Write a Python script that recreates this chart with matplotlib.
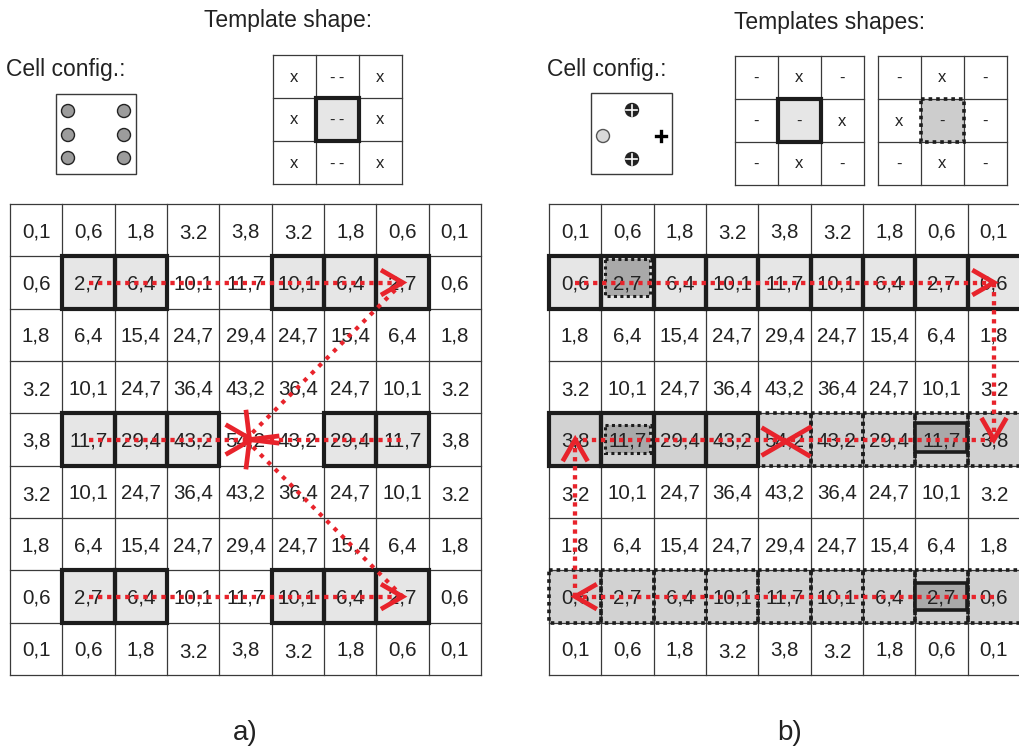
import numpy as np
import matplotlib
matplotlib.use('Agg')
import matplotlib.pyplot as plt
from matplotlib.patches import Rectangle, Circle

plt.rcParams['font.family'] = ['Liberation Sans', 'DejaVu Sans']

# grid values (same map shown in a) and b))
grid_vals = [
    ['0,1', '0,6', '1,8', '3.2', '3,8', '3.2', '1,8', '0,6', '0,1'],
    ['0,6', '2,7', '6,4', '10,1', '11,7', '10,1', '6,4', '2,7', '0,6'],
    ['1,8', '6,4', '15,4', '24,7', '29,4', '24,7', '15,4', '6,4', '1,8'],
    ['3.2', '10,1', '24,7', '36,4', '43,2', '36,4', '24,7', '10,1', '3.2'],
    ['3,8', '11,7', '29,4', '43,2', '54,2', '43,2', '29,4', '11,7', '3,8'],
    ['3.2', '10,1', '24,7', '36,4', '43,2', '36,4', '24,7', '10,1', '3.2'],
    ['1,8', '6,4', '15,4', '24,7', '29,4', '24,7', '15,4', '6,4', '1,8'],
    ['0,6', '2,7', '6,4', '10,1', '11,7', '10,1', '6,4', '2,7', '0,6'],
    ['0,1', '0,6', '1,8', '3.2', '3,8', '3.2', '1,8', '0,6', '0,1'],
]

# template shapes
tmpl_a = [['x', '--', 'x'], ['x', '--', 'x'], ['x', '--', 'x']]
tmpl_b1 = [['-', 'x', '-'], ['-', '-', 'x'], ['-', 'x', '-']]
tmpl_b2 = [['-', 'x', '-'], ['x', '-', '-'], ['-', 'x', '-']]

# highlighted cells (row, col)
a_hits = [(1, 1), (1, 2), (1, 5), (1, 6), (1, 7),
          (4, 1), (4, 2), (4, 3), (4, 6), (4, 7),
          (7, 1), (7, 2), (7, 5), (7, 6), (7, 7)]
b_solid_light = [(1, c) for c in range(9)]
b_solid_mid = [(4, 0), (4, 1), (4, 2), (4, 3)]
b_dotted_mid = [(4, 4), (4, 5), (4, 6), (4, 7), (4, 8)] + [(7, c) for c in range(9)]
# inner marks: (row, col, dx, dy, w, h, style)
b_inner = [(1, 1, 4, 3, 45, 37, 'dot'), (4, 1, 4, 12, 45, 28, 'dot'),
           (4, 7, 0, 10, 52, 29, 'solid'), (7, 7, 0, 13, 52, 27, 'solid')]

# red search paths (row, col) -> (row, col)
a_paths = [((1, 1), (1, 7)), ((1, 7), (4, 4)), ((4, 1), (4, 7)),
           ((4, 4), (7, 7)), ((7, 1), (7, 7))]
b_paths = [((1, 0), (1, 8)), ((1, 8), (4, 8)), ((4, 8), (4, 0)),
           ((7, 8), (7, 0)), ((7, 0), (4, 0))]
# arrow heads: (row, col, heading deg in screen coords)
a_heads = [(1, 7, 0), (7, 7, 0)]
b_heads = [(1, 8, 0), (4, 8, 90), (4, 0, -90), (7, 0, 180)]

W, H = 1019, 749
CELL = 52.35
GA = (10, 204)
GB = (549, 204)
RED = '#e8232b'
DARK = '#1c1c1c'
LINE = '#3a3a3a'

fig = plt.figure(figsize=(W / 100, H / 100), dpi=100)
ax = fig.add_axes([0, 0, 1, 1])
ax.set_xlim(0, W)
ax.set_ylim(H, 0)
ax.axis('off')


def corner(o, r, c, size=CELL):
    return o[0] + c * size, o[1] + r * size


def center(o, r, c, size=CELL):
    x, y = corner(o, r, c, size)
    return x + size / 2, y + size / 2


def thin_grid(o, n, size):
    for i in range(n + 1):
        ax.plot([o[0] + i * size] * 2, [o[1], o[1] + n * size], color=LINE, lw=0.9, zorder=2)
        ax.plot([o[0], o[0] + n * size], [o[1] + i * size] * 2, color=LINE, lw=0.9, zorder=2)


def box(o, r, c, fill, style, size=CELL, z=3):
    x, y = corner(o, r, c, size)
    ax.add_patch(Rectangle((x, y), size, size, facecolor=fill, edgecolor='none', zorder=1))
    if style == 'solid':
        ax.add_patch(Rectangle((x, y), size, size, fill=False, edgecolor=DARK, lw=3,
                               joinstyle='miter', zorder=z + 1))
    elif style == 'dot':
        ax.add_patch(Rectangle((x, y), size, size, fill=False, edgecolor=DARK, lw=2.6,
                               linestyle=(0, (1, 1.1)), zorder=z))


def chevron(x, y, heading, L=25, half=30, lw=3.4):
    back = np.radians(heading + 180)
    h = np.radians(half)
    p1 = (x + L * np.cos(back + h), y + L * np.sin(back + h))
    p2 = (x + L * np.cos(back - h), y + L * np.sin(back - h))
    ax.plot([p1[0], x, p2[0]], [p1[1], y, p2[1]], color=RED, lw=lw,
            solid_capstyle='butt', solid_joinstyle='miter', zorder=8)


def red_path(o, a, b, diag=False):
    x1, y1 = center(o, *a)
    x2, y2 = center(o, *b)
    if diag:
        ax.plot([x1, x2], [y1, y2], color=RED, lw=3, linestyle=(0, (1, 1.5)), zorder=7)
    else:
        ax.plot([x1, x2], [y1, y2], color=RED, lw=3.1, linestyle=(0, (1, 1.1)), zorder=7)


def numbers(o):
    for r, row in enumerate(grid_vals):
        for c, s in enumerate(row):
            x, y = center(o, r, c)
            dy = 2 if '.' in s else 0
            ax.text(x, y + 7 + dy, s, ha='center', va='baseline', fontsize=14.8,
                    color='#222222', zorder=6)


def template(o, labels, size, mid_fill, mid_style):
    box(o, 1, 1, mid_fill, mid_style, size=size)
    thin_grid(o, 3, size)
    for r, row in enumerate(labels):
        for c, s in enumerate(row):
            x, y = center(o, r, c, size)
            ax.text(x, y + 5, '\u2009'.join(s), ha='center', va='baseline', fontsize=12,
                    color='#222222', zorder=6)


# ---- a) ----
ax.text(6, 76, 'Cell config.:', fontsize=16.5, va='baseline', color='#222222')
ax.text(288, 27, 'Template shape:', fontsize=16.5, va='baseline', ha='center', color='#222222')
ax.add_patch(Rectangle((56, 94), 80, 80, fill=False, edgecolor=LINE, lw=1))
for cx in (68, 124):
    for cy in (111, 135, 158):
        ax.add_patch(Circle((cx, cy), 6.5, facecolor='#9c9c9c', edgecolor='#222222', lw=1, zorder=3))
template((273, 55), tmpl_a, 43, '#e6e6e6', 'solid')

for r, c in a_hits:
    box(GA, r, c, '#e6e6e6', 'solid')
thin_grid(GA, 9, CELL)
numbers(GA)
for a, b in a_paths:
    red_path(GA, a, b, diag=(a[0] != b[0] and a[1] != b[1]))
for r, c, hd in a_heads:
    chevron(*center(GA, r, c), hd)
cx, cy = center(GA, 4, 4)
chevron(cx + 6, cy, 0, L=30)
chevron(cx + 4, cy, 135, L=30, half=52)
chevron(cx + 4, cy, 225, L=30, half=52)

# ---- b) ----
ax.text(547, 76, 'Cell config.:', fontsize=16.5, va='baseline', color='#222222')
ax.text(830, 29, 'Templates shapes:', fontsize=16.5, va='baseline', ha='center', color='#222222')
ax.add_patch(Rectangle((591, 93), 81, 81, fill=False, edgecolor=LINE, lw=1))
ax.add_patch(Circle((603, 136), 6.5, facecolor='#d9d9d9', edgecolor='#555555', lw=1, zorder=3))
for cy in (110, 159):
    ax.add_patch(Circle((632, cy), 6.5, facecolor='#222222', edgecolor='#222222', lw=1, zorder=3))
    ax.plot([626.5, 637.5], [cy, cy], color='white', lw=1.2, zorder=4)
    ax.plot([632, 632], [cy - 5.5, cy + 5.5], color='white', lw=1.2, zorder=4)
ax.plot([656, 666], [136, 136], color='black', lw=2.4, zorder=4)
ax.plot([661, 661], [131, 141], color='black', lw=2.4, zorder=4)
template((735, 56), tmpl_b1, 43, '#e6e6e6', 'solid')
template((878, 56), tmpl_b2, 43, '#cdcdcd', 'dot')

for r, c in b_dotted_mid:
    box(GB, r, c, '#d2d2d2', 'dot')
for r, c in b_solid_light:
    box(GB, r, c, '#e6e6e6', 'solid')
for r, c in b_solid_mid:
    box(GB, r, c, '#d2d2d2', 'solid')
thin_grid(GB, 9, CELL)
for r, c, dx, dy, w, h, st in b_inner:
    x, y = corner(GB, r, c)
    ax.add_patch(Rectangle((x + dx, y + dy), w, h, facecolor='#a9a9a9', edgecolor='none', zorder=4))
    if st == 'solid':
        ax.add_patch(Rectangle((x + dx, y + dy), w, h, fill=False, edgecolor=DARK, lw=2.6,
                               joinstyle='miter', zorder=5))
    else:
        ax.add_patch(Rectangle((x + dx, y + dy), w, h, fill=False, edgecolor=DARK, lw=2.2,
                               linestyle=(0, (1, 1.1)), zorder=5))
numbers(GB)
for a, b in b_paths:
    red_path(GB, a, b)
for r, c, hd in b_heads:
    chevron(*center(GB, r, c), hd)
cx, cy = center(GB, 4, 4)
ax.plot([cx - 23, cx + 26], [cy - 12, cy + 17], color=RED, lw=3.4, solid_capstyle='butt', zorder=8)
ax.plot([cx - 23, cx + 27], [cy + 16, cy - 13], color=RED, lw=3.4, solid_capstyle='butt', zorder=8)

ax.text(245, 740, 'a)', fontsize=20, ha='center', va='baseline', color='#222222')
ax.text(790, 740, 'b)', fontsize=20, ha='center', va='baseline', color='#222222')

fig.savefig('out.png', dpi=100)
